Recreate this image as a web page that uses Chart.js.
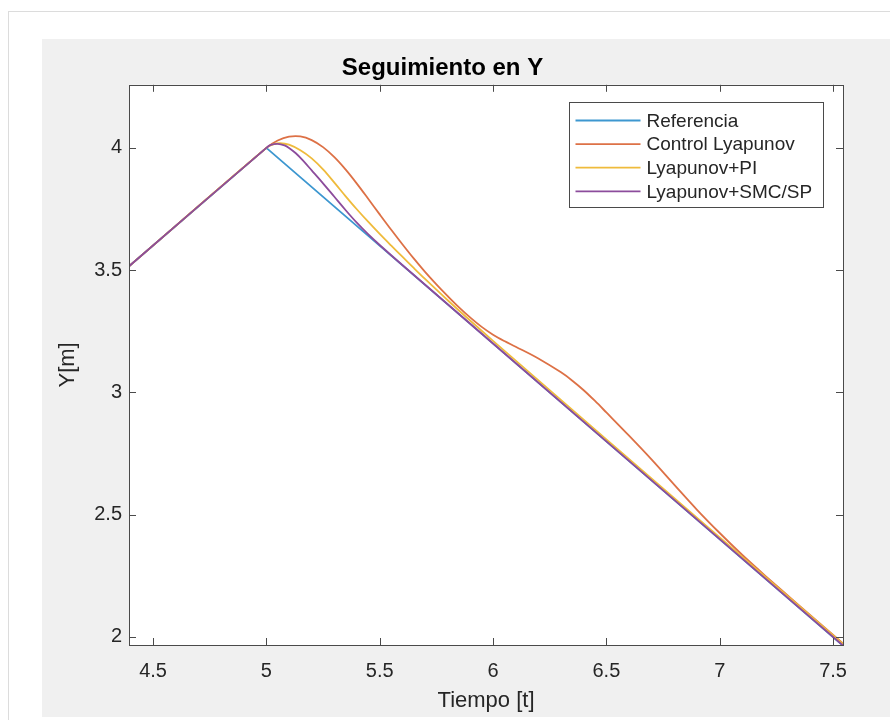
<!DOCTYPE html>
<html>
<head>
<meta charset="utf-8">
<script src="https://cdn.jsdelivr.net/npm/chart.js@4/dist/chart.umd.min.js"></script>
<style>
  html, body { margin: 0; padding: 0; background: #ffffff; width: 890px; height: 720px; overflow: hidden; }
  #frame { position: absolute; left: 8px; top: 11px; width: 900px; height: 800px; border: 1px solid #dcdcdc; box-sizing: border-box; }
  #fig { position: absolute; left: 42px; top: 39px; width: 848px; height: 678px; background: #f0f0f0; }
  canvas { position: absolute; left: 0; top: 0; }
</style>
</head>
<body>
<div id="frame"></div>
<div id="fig"><canvas id="c" width="848" height="678"></canvas></div>
<script>
// ---- data ----
const chartTitle = 'Seguimiento en Y';
const xTitle = 'Tiempo [t]';
const yTitle = 'Y[m]';
const seriesNames = ['Referencia', 'Control Lyapunov', 'Lyapunov+PI', 'Lyapunov+SMC/SP'];
const xTicks = [4.5, 5, 5.5, 6, 6.5, 7, 7.5];
const yTicks = [2, 2.5, 3, 3.5, 4];
const xRange = [4.394, 7.544];
const yRange = [1.967, 4.258];

const refT = [4.394, 5.0, 7.544];
const refY = [3.516, 4.0, 1.964];

const lyapT = [4.394, 5.0, 5.05, 5.1, 5.15, 5.2, 5.25, 5.3, 5.35, 5.4, 5.45, 5.5, 5.55, 5.6, 5.65, 5.7, 5.75, 5.8, 5.85, 5.9, 5.95, 6.0, 6.05, 6.1, 6.2, 6.3, 6.35, 6.4, 6.45, 6.5, 6.6, 6.7, 6.8, 6.9, 7.0, 7.1, 7.2, 7.35, 7.544];
const lyapY = [3.516, 4.0, 4.030, 4.046, 4.047, 4.032, 4.003, 3.962, 3.911, 3.853, 3.791, 3.728, 3.666, 3.606, 3.548, 3.493, 3.442, 3.394, 3.348, 3.306, 3.268, 3.236, 3.210, 3.187, 3.139, 3.082, 3.048, 3.009, 2.965, 2.918, 2.823, 2.725, 2.622, 2.520, 2.425, 2.335, 2.251, 2.129, 1.973];

const piT = [4.394, 5.0, 5.03, 5.06, 5.1, 5.15, 5.2, 5.25, 5.3, 5.35, 5.4, 5.45, 5.5, 5.55, 5.6, 5.65, 5.7, 5.8, 5.9, 6.0, 6.5, 7.0, 7.544];
const piY = [3.516, 4.0, 4.014, 4.019, 4.013, 3.990, 3.957, 3.912, 3.858, 3.802, 3.748, 3.697, 3.648, 3.601, 3.555, 3.509, 3.464, 3.377, 3.293, 3.211, 2.808, 2.407, 1.971];

const smcT = [4.394, 5.0, 5.02, 5.05, 5.08, 5.1, 5.13, 5.16, 5.2, 5.25, 5.3, 5.35, 5.4, 5.45, 5.5, 5.6, 6.0, 7.0, 7.544];
const smcY = [3.516, 4.0, 4.012, 4.016, 4.010, 4.000, 3.978, 3.950, 3.908, 3.855, 3.800, 3.745, 3.693, 3.646, 3.603, 3.521, 3.200, 2.400, 1.965];

const colors = ['#3d97d0', '#dd7146', '#efbb3c', '#8c4c9c'];

// ---- chart ----
const FONT = '"Liberation Sans", Arial, Helvetica, sans-serif';
const TXT = '#262626';
const AXC = '#4a4a4a';

function pts(t, y) { return t.map((v, i) => ({ x: v, y: y[i] })); }

const seriesT = [refT, lyapT, piT, smcT];
const seriesY = [refY, lyapY, piY, smcY];

const datasets = seriesNames.map((name, i) => ({
  label: name,
  data: pts(seriesT[i], seriesY[i]),
  borderColor: colors[i],
  backgroundColor: colors[i],
  borderWidth: 1.8,
  pointRadius: 0,
  fill: false,
  tension: i === 0 ? 0 : 0.35,
  order: seriesNames.length - i
}));

const boxPlugin = {
  id: 'boxPlugin',
  beforeDraw(chart) {
    const { ctx, chartArea: a } = chart;
    ctx.save();
    ctx.fillStyle = '#ffffff';
    ctx.fillRect(a.left, a.top, a.right - a.left, a.bottom - a.top);
    ctx.restore();
  },
  afterDatasetsDraw(chart) {
    const { ctx, chartArea: a, scales } = chart;
    ctx.save();
    ctx.strokeStyle = AXC;
    ctx.lineWidth = 1;
    const L = 7;
    ctx.beginPath();
    scales.x.ticks.forEach(t => {
      const px = Math.round(scales.x.getPixelForValue(t.value)) + 0.5;
      ctx.moveTo(px, a.bottom); ctx.lineTo(px, a.bottom - L);
      ctx.moveTo(px, a.top); ctx.lineTo(px, a.top + L);
    });
    scales.y.ticks.forEach(t => {
      const py = Math.round(scales.y.getPixelForValue(t.value)) + 0.5;
      ctx.moveTo(a.left, py); ctx.lineTo(a.left + L, py);
      ctx.moveTo(a.right, py); ctx.lineTo(a.right - L, py);
    });
    ctx.stroke();
    ctx.strokeRect(Math.round(a.left) + 0.5, Math.round(a.top) + 0.5, Math.round(a.right - a.left), Math.round(a.bottom - a.top));
    ctx.restore();
  },
  afterDraw(chart) {
    const { ctx, chartArea: a } = chart;
    const ds = chart.data.datasets;
    const w = 254, h = 105;
    const x0 = Math.round(a.right - 20 - w) + 0.5, y0 = Math.round(a.top + 17) + 0.5;
    ctx.save();
    ctx.fillStyle = '#ffffff';
    ctx.fillRect(x0, y0, w, h);
    ctx.strokeStyle = AXC;
    ctx.lineWidth = 1;
    ctx.strokeRect(x0, y0, w, h);
    ctx.font = '19px ' + FONT;
    ctx.textBaseline = 'middle';
    ctx.textAlign = 'left';
    ds.forEach((d, i) => {
      const cy = y0 + 18 + i * 23.6;
      ctx.strokeStyle = d.borderColor;
      ctx.lineWidth = 1.8;
      ctx.beginPath();
      ctx.moveTo(x0 + 6, cy); ctx.lineTo(x0 + 71, cy);
      ctx.stroke();
      ctx.fillStyle = TXT;
      ctx.fillText(d.label, x0 + 77, cy + 1);
    });
    ctx.restore();
  }
};

new Chart(document.getElementById('c'), {
  type: 'line',
  data: { datasets },
  options: {
    responsive: false,
    devicePixelRatio: 1,
    animation: false,
    events: [],
    layout: { padding: { left: 0, right: 47, top: 0, bottom: 0 } },
    plugins: {
      legend: { display: false },
      tooltip: { enabled: false },
      title: {
        display: true,
        text: chartTitle,
        color: '#000000',
        font: { family: FONT, size: 24, weight: 'bold' },
        padding: { top: 15, bottom: 2 }
      }
    },
    scales: {
      x: {
        type: 'linear',
        min: xRange[0], max: xRange[1],
        grid: { display: false, drawTicks: false },
        border: { display: false },
        afterBuildTicks: s => { s.ticks = xTicks.map(v => ({ value: v })); },
        afterFit: s => { s.height = 72; },
        ticks: { color: TXT, font: { family: FONT, size: 20 }, padding: 14, maxRotation: 0, callback: v => String(v) },
        title: { display: true, text: xTitle, color: TXT, font: { family: FONT, size: 22 }, padding: { top: 0, bottom: 3 } }
      },
      y: {
        type: 'linear',
        min: yRange[0], max: yRange[1],
        grid: { display: false, drawTicks: false },
        border: { display: false },
        afterBuildTicks: s => { s.ticks = yTicks.map(v => ({ value: v })); },
        afterFit: s => { s.width = 87; },
        ticks: { color: TXT, font: { family: FONT, size: 20 }, padding: 7, callback: v => String(v) },
        title: { display: true, text: yTitle, color: TXT, font: { family: FONT, size: 22 }, padding: { top: 13, bottom: 0 } }
      }
    }
  },
  plugins: [boxPlugin]
});
</script>
</body>
</html>
